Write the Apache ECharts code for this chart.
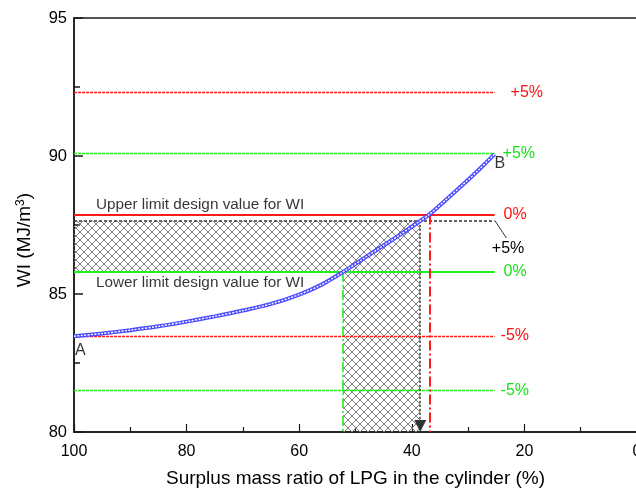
<!DOCTYPE html>
<html>
<head>
<meta charset="utf-8">
<script src="https://cdn.jsdelivr.net/npm/echarts@6/dist/echarts.min.js"></script>
<style>html,body{margin:0;padding:0;background:#fff}#c{width:636px;height:490px}</style>
</head>
<body>
<div id="c"></div>
<script>
// ---- data ----
const massRatio = [100, 95, 90, 85, 80, 75, 70, 65, 60, 56, 52.2, 48.6, 45, 42, 38.5, 36.9, 34, 31, 28, 25.3];
const wiValues  = [83.47, 83.57, 83.69, 83.83, 84.00, 84.19, 84.40, 84.64, 84.98, 85.34, 85.80, 86.28, 86.76, 87.16, 87.65, 87.88, 88.40, 88.95, 89.52, 90.07];
const xTicks = [100, 80, 60, 40, 20, 0];
const yTicks = [80, 85, 90, 95];
const upperLimit = 87.88, lowerLimit = 85.80;
const upperPlus = 92.30, upperMinus = 83.48;
const lowerPlus = 90.09, lowerMinus = 81.51;
const startPlus = 87.65;           // +5% of point A
const lineEndX = 25.3;
const xAtLower = 52.2, xAtUpper = 36.9, xAtStartPlus = 38.5;
const limitLabels = ['Upper limit design value for WI', 'Lower limit design value for WI'];

const RED = '#ff1a1a', RED_T = '#ff1010', GREEN = '#1ff01f', GREEN_T = '#18e018';
const INK = '#000';
const FONT = 'Liberation Sans, Arial, sans-serif';

function hatchCanvas() {
  const c = document.createElement('canvas');
  c.width = 8; c.height = 8;
  const g = c.getContext('2d');
  g.strokeStyle = '#808080'; g.lineWidth = 1;
  g.beginPath();
  g.moveTo(-1, -1); g.lineTo(9, 9);
  g.moveTo(9, -1); g.lineTo(-1, 9);
  g.stroke();
  return c;
}
const hatch = { image: hatchCanvas(), repeat: 'repeat' };

function hLine(y, color, type, width, label, labelColor, dist) {
  return [
    { coord: [massRatio[0], y], lineStyle: { color, type, width },
      label: { show: true, position: 'end', formatter: label, color: labelColor, fontSize: 16, fontFamily: FONT, distance: dist } },
    { coord: [lineEndX, y] }
  ];
}
function vLine(x, yTop, color, type, width) {
  return [
    { coord: [x, yTop], lineStyle: { color, type, width }, label: { show: false } },
    { coord: [x, 80] }
  ];
}
const dashDot = [10, 3, 2, 3];

const chart = echarts.init(document.getElementById('c'), null, { renderer: 'canvas' });
const curve = massRatio.map((x, i) => [x, wiValues[i]]);

chart.setOption({
  animation: false,
  textStyle: { fontFamily: FONT },
  grid: { left: 74, top: 18, width: 563, height: 414, outerBoundsMode: 'none', containLabel: false,
          show: true, borderColor: '#1a1a1a', borderWidth: 1.5, backgroundColor: 'transparent' },
  xAxis: {
    type: 'value', min: 0, max: 100, interval: 20, inverse: true,
    name: 'Surplus mass ratio of LPG in the cylinder (%)', nameLocation: 'middle', nameGap: 37,
    nameTextStyle: { fontSize: 19, color: INK, fontFamily: FONT },
    axisLine: { show: true, onZero: false, lineStyle: { color: '#1a1a1a', width: 1.5 } },
    axisTick: { show: true, inside: true, length: 8, lineStyle: { color: '#1a1a1a', width: 1.2 } },
    minorTick: { show: true, splitNumber: 2, length: 5, lineStyle: { color: '#1a1a1a', width: 1.2 } },
    axisLabel: { fontSize: 16, color: INK, margin: 12, fontFamily: FONT,
      formatter: v => xTicks.includes(v) ? String(v) : '' },
    splitLine: { show: false }
  },
  yAxis: {
    type: 'value', min: 80, max: 95, interval: 5,
    axisLine: { show: true, onZero: false, lineStyle: { color: '#1a1a1a', width: 1.5 } },
    axisTick: { show: true, inside: true, length: 9, lineStyle: { color: '#1a1a1a', width: 1.5 } },
    minorTick: { show: true, splitNumber: 2, length: 6, lineStyle: { color: '#1a1a1a', width: 1.5 } },
    axisLabel: { fontSize: 16.5, color: INK, margin: 7, fontFamily: FONT,
      formatter: v => yTicks.includes(v) ? String(v) : '' },
    splitLine: { show: false }
  },
  graphic: [{
    type: 'text', x: 25, y: 240, rotation: Math.PI / 2,
    style: {
      text: 'WI (MJ/m{sup|3})', fontSize: 19, fontFamily: FONT, fill: INK,
      align: 'center', verticalAlign: 'middle',
      rich: { sup: { fontSize: 12, fontFamily: FONT, fill: INK, padding: [0, 0, 9, 0] } }
    }
  }],
  series: [
    {
      name: 'regions', type: 'line', data: [], z: 1, silent: true,
      markArea: {
        silent: true,
        itemStyle: { color: hatch, opacity: 1, borderWidth: 0 },
        data: [
          [{ coord: [massRatio[0], startPlus] }, { coord: [xAtStartPlus, lowerLimit] }],
          [{ coord: [xAtLower, lowerLimit] }, { coord: [xAtStartPlus, 80] }]
        ]
      }
    },
    {
      name: 'limits', type: 'line', data: [], z: 2, silent: true,
      markLine: {
        silent: true, symbol: ['none', 'none'], animation: false,
        data: [
          hLine(upperPlus, RED, [3, 1], 1.3, '+5%', RED_T, 16),
          hLine(lowerPlus, GREEN, [3, 1], 1.3, '+5%', GREEN_T, 8),
          hLine(upperLimit, RED, 'solid', 2, '0%', RED_T, 9),
          hLine(startPlus, '#333', [3, 2], 1.5, '', INK, 0),
          hLine(lowerLimit, GREEN, 'solid', 2, '0%', GREEN_T, 9),
          hLine(upperMinus, RED, [3, 1], 1.3, '-5%', RED_T, 6),
          hLine(lowerMinus, GREEN, [3, 1], 1.3, '-5%', GREEN_T, 6),
          vLine(xAtLower, lowerLimit, GREEN, dashDot, 1.6),
          vLine(xAtUpper, upperLimit, RED, dashDot, 2)
        ]
      }
    },
    {
      name: 'arrow', type: 'line', data: [], z: 3, silent: true,
      markLine: {
        silent: true, symbol: ['none', 'triangle'], symbolSize: 12,
        data: [
          [{ coord: [xAtStartPlus, startPlus], lineStyle: { color: '#333', type: [2, 2], width: 1.5 }, label: { show: false } },
           { coord: [xAtStartPlus, 80.22] }],
          [{ coord: [lineEndX - 0.1, startPlus], lineStyle: { color: '#333', type: 'solid', width: 1 },
             label: { show: true, position: 'end', formatter: '+5%', color: INK, fontSize: 16, fontFamily: FONT, distance: 3 } },
           { coord: [23.2, 87.03], symbol: 'none' }]
        ]
      }
    },
    {
      name: 'curveOuter', type: 'line', data: curve, smooth: 0.3, showSymbol: false, z: 5,
      lineStyle: { color: '#4b4bff', width: 4 }
    },
    {
      name: 'curveInner', type: 'line', data: curve, smooth: 0.3, showSymbol: false, z: 6,
      lineStyle: { color: '#ffffff', width: 1.4, type: [2, 1.4] }
    },
    {
      name: 'ends', type: 'scatter', symbolSize: 0, z: 7,
      data: [
        { value: curve[0], label: { show: true, formatter: 'A', position: [1, 6], fontSize: 16, color: INK, fontFamily: FONT } },
        { value: curve[curve.length - 1], label: { show: true, formatter: 'B', position: [0, 2], fontSize: 16, color: INK, fontFamily: FONT } }
      ]
    },
    {
      name: 'notes', type: 'scatter', symbolSize: 0, z: 7,
      data: [
        { value: [96.1, 88.22], label: { show: true, formatter: limitLabels[0], position: 'right', distance: 0, fontSize: 15.3, color: INK, fontFamily: FONT } },
        { value: [96.1, 85.40], label: { show: true, formatter: limitLabels[1], position: 'right', distance: 0, fontSize: 15.3, color: INK, fontFamily: FONT } }
      ]
    }
  ]
});
</script>
</body>
</html>
